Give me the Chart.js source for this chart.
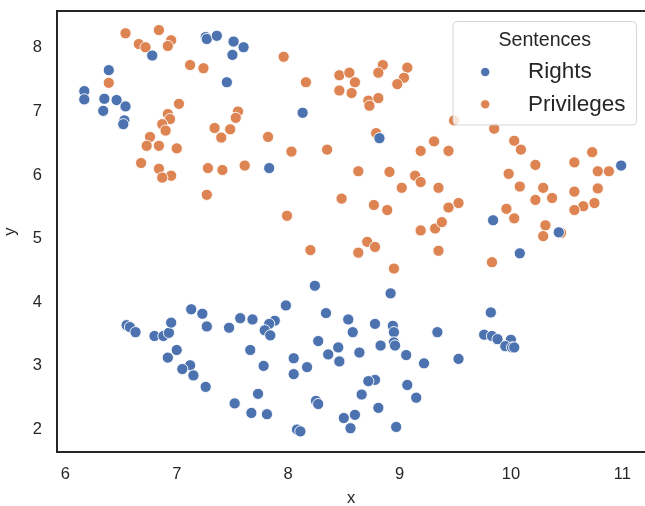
<!DOCTYPE html>
<html>
<head>
<meta charset="utf-8">
<script src="https://cdn.jsdelivr.net/npm/chart.js@4.4.0/dist/chart.umd.min.js"></script>
<style>
  html, body { margin: 0; padding: 0; background: #fff; overflow: hidden; }
</style>
</head>
<body>
<canvas id="scatterChart" width="645" height="506"></canvas>
<script>
// 数据
const seriesNames = ['Rights', 'Privileges'];
const seriesColors = ['#4c72b0', '#dd8452'];
const legendTitle = 'Sentences';
const xLabel = 'x';
const yLabel = 'y';
const xTicks = [6, 7, 8, 9, 10, 11];
const yTicks = [2, 3, 4, 5, 6, 7, 8];

const rightsX = [7.26, 7.27, 7.36, 7.51, 7.60, 7.50, 6.78, 6.39, 7.45, 6.17, 6.17, 6.35, 6.46, 6.54, 6.34, 6.53, 6.52, 8.13, 8.82, 7.83, 10.99, 9.84, 10.43, 10.08,
    6.55, 6.58, 6.63, 6.80, 6.88, 6.93, 6.95, 7.13, 7.23, 7.27, 7.47, 7.57, 7.68, 7.00, 6.92, 7.12, 7.05, 7.15, 7.26, 7.66, 7.52, 7.67, 7.73, 7.88, 7.83, 7.79,
    7.84, 7.98, 8.24, 8.34, 8.54, 8.58, 8.78, 8.92, 8.94, 8.95, 8.95, 8.96, 9.34, 8.27, 8.45, 8.36, 8.46, 8.64, 8.83, 9.06, 9.22, 8.05, 7.78, 8.17, 8.05,
    8.78, 8.72, 9.07, 9.15, 8.66, 8.81, 8.25, 8.27, 7.81, 8.60, 8.50, 8.56, 8.97, 8.08, 8.11, 9.82, 9.76, 9.83, 9.88, 10.00, 9.95, 10.01, 10.03, 9.53];
const rightsY = [8.17, 8.14, 8.19, 8.10, 8.01, 7.89, 7.88, 7.65, 7.46, 7.32, 7.19, 7.20, 7.18, 7.08, 7.01, 6.86, 6.80, 6.98, 6.58, 6.11, 6.15, 5.29, 5.10, 4.77,
    3.64, 3.61, 3.53, 3.47, 3.47, 3.52, 3.68, 3.89, 3.82, 3.62, 3.60, 3.75, 3.73, 3.25, 3.13, 3.01, 2.95, 2.85, 2.67, 3.25, 2.41, 2.26, 2.56, 3.71, 3.66, 3.56,
    3.48, 3.95, 4.26, 3.83, 3.73, 3.53, 3.66, 4.14, 3.63, 3.53, 3.37, 3.32, 3.53, 3.39, 3.29, 3.18, 3.07, 3.21, 3.32, 3.17, 3.04, 3.12, 3.00, 2.98, 2.87,
    2.78, 2.76, 2.70, 2.50, 2.55, 2.34, 2.45, 2.40, 2.24, 2.23, 2.18, 2.02, 2.04, 2.00, 1.97, 3.84, 3.49, 3.47, 3.42, 3.41, 3.31, 3.29, 3.29, 3.11];

const privilegesX = [6.54, 6.84, 6.66, 6.72, 6.95, 6.92, 7.12, 7.24, 6.39, 7.02, 6.92, 6.94, 6.87, 6.90, 6.76, 6.73, 6.84, 7.00, 6.68, 6.84, 6.95, 6.87,
    7.55, 7.53, 7.34, 7.48, 7.40, 7.28, 7.41, 7.61, 7.27,
    7.96, 8.16, 8.46, 8.55, 8.60, 8.46, 8.57, 8.85, 8.81, 9.07, 9.04, 8.98, 8.72, 8.73, 8.81, 8.79, 7.82, 8.03, 8.35, 8.63, 8.91, 9.14, 9.19, 9.02, 9.35,
    9.31, 9.19, 8.48, 8.77, 8.89, 7.99, 9.19, 9.32, 9.38,
    9.49, 9.85, 9.44, 10.03, 10.09, 10.22, 9.98, 10.08, 10.29, 10.37, 10.22, 9.53, 9.44, 9.35, 9.96, 10.03, 10.31, 10.29, 10.45, 9.83, 10.57, 10.73, 10.78,
    10.88, 10.78, 10.57, 10.65, 10.75, 10.57,
    8.20, 8.63, 8.71, 8.78, 8.95];
const privilegesY = [8.23, 8.28, 8.06, 8.01, 8.12, 8.03, 7.73, 7.68, 7.45, 7.12, 6.96, 6.88, 6.80, 6.70, 6.60, 6.46, 6.46, 6.42, 6.19, 6.10, 5.99, 5.96,
    7.00, 6.90, 6.74, 6.72, 6.59, 6.11, 6.08, 6.15, 5.69,
    7.86, 7.46, 7.57, 7.61, 7.46, 7.33, 7.29, 7.73, 7.61, 7.69, 7.53, 7.43, 7.17, 7.09, 7.21, 6.66, 6.60, 6.37, 6.40, 6.06, 6.05, 5.99, 5.89, 5.80, 5.80,
    6.53, 6.38, 5.63, 5.53, 5.45, 5.36, 5.13, 5.16, 5.26,
    6.86, 6.73, 6.38, 6.54, 6.40, 6.16, 6.02, 5.82, 5.80, 5.64, 5.61, 5.56, 5.49, 4.81, 5.47, 5.32, 5.21, 5.04, 5.09, 4.63, 6.20, 6.36, 6.06,
    6.06, 5.79, 5.74, 5.51, 5.56, 5.45,
    4.82, 4.78, 4.95, 4.87, 4.53];

const textColor = '#262626';
const fontFamily = '"Liberation Sans", Arial, sans-serif';

function toPoints(xs, ys) {
    return xs.map((x, i) => ({ x: x, y: ys[i] }));
}

// 边框：上、左、下（右边被裁掉）
const framePlugin = {
    id: 'frame',
    afterDatasetsDraw(chart) {
        const { ctx, chartArea: a } = chart;
        ctx.save();
        ctx.strokeStyle = textColor;
        ctx.lineWidth = 2;
        ctx.beginPath();
        ctx.moveTo(a.right + 2, a.top);
        ctx.lineTo(a.left, a.top);
        ctx.lineTo(a.left, a.bottom);
        ctx.lineTo(a.right + 2, a.bottom);
        ctx.stroke();
        ctx.restore();
    }
};

// 图例：画在图内右上角
const legendPlugin = {
    id: 'boxLegend',
    afterDraw(chart) {
        const { ctx, chartArea: a } = chart;
        const w = 183.5, h = 103.5, r = 4;
        const x0 = a.right - 8.5 - w, y0 = a.top + 10.5;
        ctx.save();
        ctx.beginPath();
        ctx.moveTo(x0 + r, y0);
        ctx.arcTo(x0 + w, y0, x0 + w, y0 + h, r);
        ctx.arcTo(x0 + w, y0 + h, x0, y0 + h, r);
        ctx.arcTo(x0, y0 + h, x0, y0, r);
        ctx.arcTo(x0, y0, x0 + w, y0, r);
        ctx.closePath();
        ctx.fillStyle = 'rgba(255,255,255,0.8)';
        ctx.fill();
        ctx.strokeStyle = 'rgba(204,204,204,0.8)';
        ctx.lineWidth = 1;
        ctx.stroke();

        ctx.fillStyle = textColor;
        ctx.textBaseline = 'alphabetic';
        ctx.textAlign = 'center';
        ctx.font = '19.6px ' + fontFamily;
        ctx.fillText(legendTitle, x0 + w / 2, y0 + 24.2);

        ctx.textAlign = 'left';
        ctx.font = '22.5px ' + fontFamily;
        chart.data.datasets.forEach((ds, i) => {
            const cy = y0 + 50.5 + i * 32.3;
            ctx.beginPath();
            ctx.arc(x0 + 32.2, cy, 4.6, 0, Math.PI * 2);
            ctx.fillStyle = ds.backgroundColor;
            ctx.fill();
            ctx.strokeStyle = '#fff';
            ctx.lineWidth = 0.8;
            ctx.stroke();
            ctx.fillStyle = textColor;
            ctx.fillText(ds.label, x0 + 75, cy + 5.7 + i * 0.5);
        });
        ctx.restore();
    }
};

const tickFont = { family: fontFamily, size: 16.5 };

new Chart(document.getElementById('scatterChart'), {
    type: 'scatter',
    data: {
        datasets: [
            {
                label: seriesNames[0],
                data: toPoints(rightsX, rightsY),
                backgroundColor: seriesColors[0],
                borderColor: '#ffffff',
                borderWidth: 0.9,
                pointRadius: 5.6
            },
            {
                label: seriesNames[1],
                data: toPoints(privilegesX, privilegesY),
                backgroundColor: seriesColors[1],
                borderColor: '#ffffff',
                borderWidth: 0.9,
                pointRadius: 5.6
            }
        ]
    },
    options: {
        responsive: false,
        animation: false,
        layout: { autoPadding: false, padding: { top: 11, right: 0, bottom: 0, left: 0 } },
        plugins: {
            legend: { display: false },
            tooltip: { enabled: false }
        },
        scales: {
            x: {
                type: 'linear',
                min: 5.925,
                max: 11.204,
                grid: { display: false, drawTicks: false },
                border: { display: false },
                afterBuildTicks: s => { s.ticks = xTicks.map(v => ({ value: v })); },
                afterFit: s => { s.height = 54; s.paddingLeft = 0; s.paddingRight = 0; },
                ticks: { padding: 13, color: textColor, font: tickFont, maxRotation: 0 },
                title: { display: true, text: xLabel, color: textColor, font: tickFont, padding: { top: 0, bottom: -2.4 } }
            },
            y: {
                type: 'linear',
                min: 1.646,
                max: 8.58,
                grid: { display: false, drawTicks: false },
                border: { display: false },
                afterBuildTicks: s => { s.ticks = yTicks.map(v => ({ value: v })); },
                afterFit: s => { s.width = 57; s.paddingTop = 0; s.paddingBottom = 0; },
                ticks: { padding: 15, color: textColor, font: tickFont },
                title: { display: true, text: yLabel, color: textColor, font: tickFont, padding: { top: 1, bottom: 0 } }
            }
        }
    },
    plugins: [framePlugin, legendPlugin]
});
</script>
</body>
</html>
